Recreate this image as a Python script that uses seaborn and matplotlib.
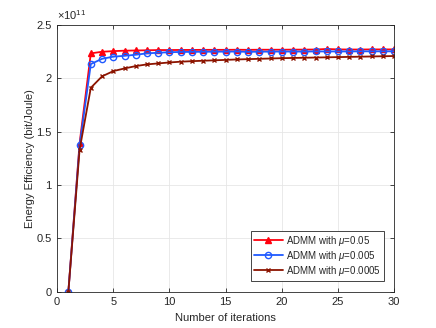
import numpy as np
import pandas as pd
import seaborn as sns
import matplotlib
matplotlib.use("Agg")
import matplotlib.pyplot as plt
from matplotlib.ticker import FuncFormatter

iterations = list(range(1, 31))
ee_mu_005 = [0, 1.39, 2.231, 2.246, 2.252, 2.256, 2.258, 2.260, 2.262, 2.262, 2.263, 2.263,
             2.264, 2.264, 2.264, 2.265, 2.264, 2.265, 2.265, 2.265, 2.266, 2.266, 2.267,
             2.272, 2.268, 2.267, 2.267, 2.268, 2.268, 2.268]
ee_mu_0005 = [0, 1.37, 2.131, 2.180, 2.200, 2.208, 2.218, 2.231, 2.237, 2.242, 2.244, 2.245,
              2.246, 2.247, 2.247, 2.248, 2.245, 2.247, 2.247, 2.248, 2.248, 2.248, 2.249,
              2.249, 2.249, 2.249, 2.250, 2.250, 2.250, 2.250]
ee_mu_00005 = [0, 1.33, 1.909, 2.016, 2.065, 2.090, 2.112, 2.128, 2.137, 2.146, 2.153, 2.158,
               2.162, 2.166, 2.170, 2.174, 2.177, 2.180, 2.183, 2.186, 2.188, 2.190, 2.192,
               2.194, 2.196, 2.198, 2.200, 2.202, 2.204, 2.206]
labels = [r"ADMM with $\mu$=0.05", r"ADMM with $\mu$=0.005", r"ADMM with $\mu$=0.0005"]
scale = 1e11

sns.set_theme(style="ticks")
plt.rcParams['font.family'] = ['Liberation Sans', 'DejaVu Sans']
plt.rcParams['mathtext.fontset'] = 'custom'
plt.rcParams['mathtext.it'] = 'Liberation Sans:italic'
plt.rcParams['mathtext.rm'] = 'Liberation Sans'

rows = []
for lab, vals in zip(labels, [ee_mu_005, ee_mu_0005, ee_mu_00005]):
    for x, v in zip(iterations, vals):
        rows.append({"iter": x, "ee": v * scale, "series": lab})
df = pd.DataFrame(rows)

fig = plt.figure(figsize=(4.36, 3.28), dpi=100)
ax = fig.add_axes([0.131, 0.110, 0.773, 0.815])

styles = {
    labels[0]: dict(color=(1.0, 0.0, 0.05), marker="^", mfc=(1.0, 0.0, 0.05), ms=5),
    labels[1]: dict(color=(0.12, 0.35, 1.0), marker="o", mfc="none", ms=4.5),
    labels[2]: dict(color=(0.55, 0.08, 0.0), marker="x", mfc=(0.55, 0.08, 0.0), ms=3),
}
for lab in labels:
    st = styles[lab]
    sns.lineplot(data=df[df.series == lab], x="iter", y="ee", ax=ax, label=lab,
                 color=st["color"], marker=st["marker"], markersize=st["ms"],
                 markerfacecolor=st["mfc"], markeredgecolor=st["color"],
                 markeredgewidth=1.0, linewidth=1.3)

ax.set_xlim(0, 30)
ax.set_ylim(0, 2.5e11)
ax.set_xticks(np.arange(0, 31, 5))
ax.set_yticks(np.arange(0, 2.51e11, 0.5e11))
ax.yaxis.set_major_formatter(FuncFormatter(lambda v, p: f"{v / scale:g}"))
ax.text(0.0, 1.008, r"$\times10^{11}$", transform=ax.transAxes, ha="left", va="bottom",
        fontsize=8, color="#262626")

ax.grid(True, color="#e6e6e6", linewidth=0.6)
ax.set_axisbelow(True)
for s in ax.spines.values():
    s.set_color("#262626")
    s.set_linewidth(0.6)
ax.tick_params(direction="in", top=True, right=True, labelsize=8, colors="#262626",
               length=3, width=0.6, pad=4)
ax.set_xlabel("Number of iterations", fontsize=8, color="#262626", labelpad=4)
ax.set_ylabel("Energy Efficiency (bit/Joule)", fontsize=8, color="#262626", labelpad=0.5)

leg = ax.legend(loc="lower right", bbox_to_anchor=(0.975, 0.035), fontsize=7,
                frameon=True, fancybox=False, edgecolor="#262626", framealpha=1,
                handlelength=3.0, borderpad=0.3, labelspacing=0.1, handletextpad=0.3,
                borderaxespad=0.2)
leg.get_frame().set_linewidth(0.6)

fig.savefig("out.png", dpi=100)
